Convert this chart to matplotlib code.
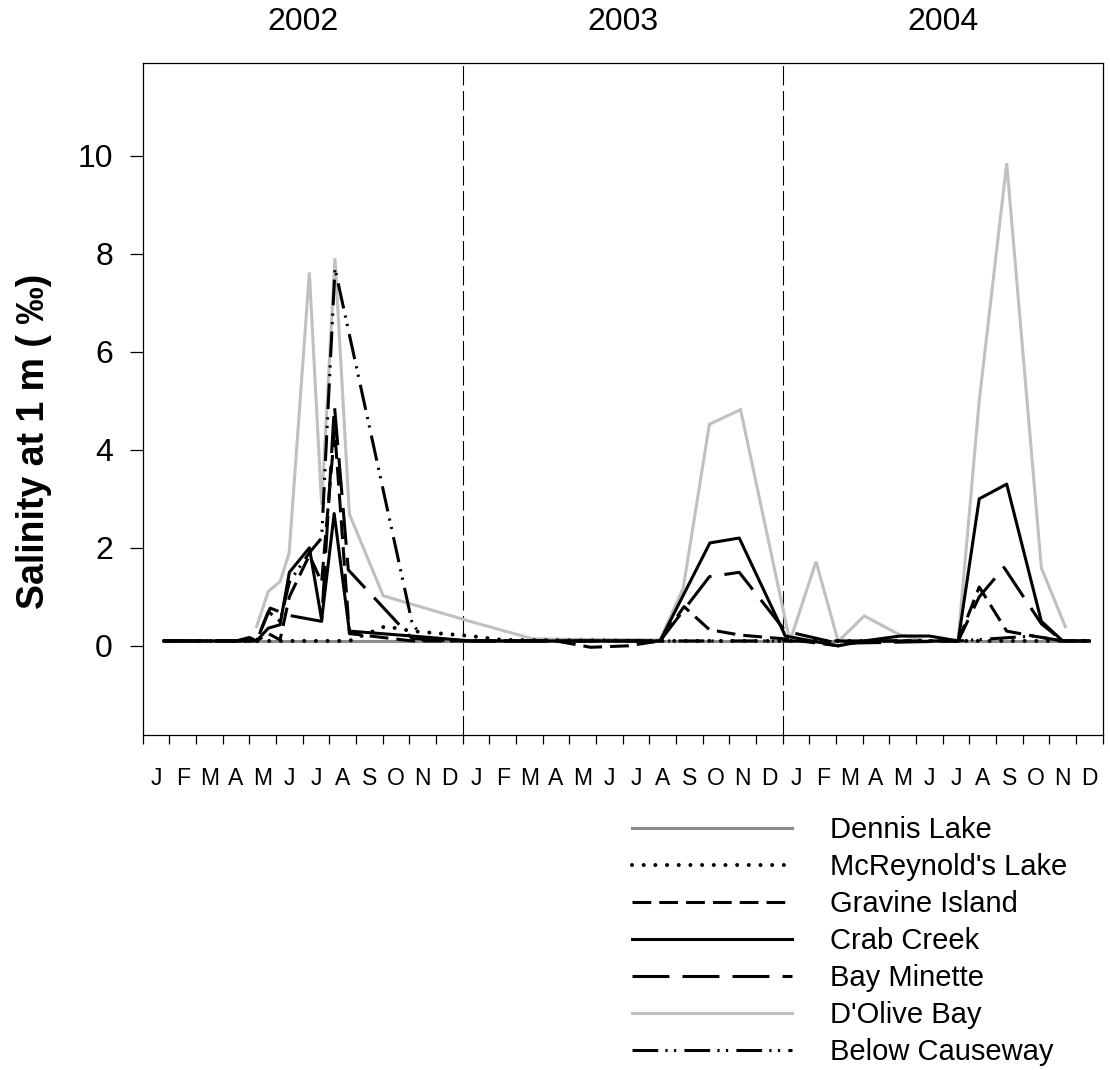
import matplotlib
matplotlib.use("Agg")
import matplotlib.pyplot as plt
from matplotlib.ticker import FixedLocator, NullFormatter, FixedFormatter
from matplotlib.transforms import blended_transform_factory

plt.rcParams['font.family'] = ['Liberation Sans', 'DejaVu Sans']
plt.rcParams['lines.scale_dashes'] = False

# x positions are in months since 1 Jan 2002 (0 = start of Jan 2002)
month_labels = ['J', 'F', 'M', 'A', 'M', 'J', 'J', 'A', 'S', 'O', 'N', 'D']
year_labels = ['2002', '2003', '2004']

dennis_x = [0.8, 4.27, 7.2, 12.3, 19.4, 24.27, 30.58, 35.5]
dennis_y = [0.1, 0.1, 0.1, 0.1, 0.1, 0.1, 0.1, 0.1]

mcreynolds_x = [0.8, 4.27, 7.2, 7.75, 9.1, 10.1, 12.3, 13.5, 19.4, 24.2, 30.58, 35.5]
mcreynolds_y = [0.1, 0.1, 0.1, 0.1, 0.4, 0.3, 0.2, 0.12, 0.1, 0.1, 0.1, 0.1]

gravine_x = [0.8, 4.27, 4.71, 5.15, 5.5, 6.25, 6.71, 7.2, 7.75, 10.1, 12.3, 15.5,
             16.8, 18.2, 19.4, 20.3, 21.25, 22.4, 24.1, 26.08, 27.06, 30.58, 31.37,
             32.4, 33.4, 34.5, 35.5]
gravine_y = [0.1, 0.1, 0.25, 0.12, 1.0, 1.85, 1.3, 4.4, 0.25, 0.1, 0.1, 0.1,
             -0.03, 0.0, 0.1, 0.8, 0.33, 0.22, 0.14, 0.0, 0.1, 0.1, 1.2,
             0.3, 0.2, 0.1, 0.1]

crab_x = [0.8, 3.5, 4.0, 4.27, 4.71, 5.15, 5.5, 6.25, 6.71, 7.18, 7.75, 10.1, 12.3,
          19.4, 21.27, 22.37, 24.1, 26.08, 27.06, 28.4, 29.5, 30.58, 31.37, 32.4,
          33.7, 34.5, 35.5]
crab_y = [0.1, 0.1, 0.17, 0.1, 0.36, 0.43, 1.5, 2.0, 0.53, 2.7, 0.3, 0.2, 0.1,
          0.1, 2.1, 2.2, 0.2, 0.0, 0.1, 0.2, 0.2, 0.1, 3.0, 3.3,
          0.5, 0.1, 0.1]

minette_x = [0.8, 4.27, 4.78, 5.5, 6.71, 7.19, 7.71, 10.1, 12.3, 19.4, 21.25, 22.37,
             24.1, 26.08, 30.58, 31.37, 32.3, 33.7, 34.5, 35.5]
minette_y = [0.1, 0.1, 0.77, 0.62, 0.5, 4.9, 1.55, 0.15, 0.1, 0.1, 1.41, 1.5,
             0.3, 0.05, 0.1, 1.0, 1.6, 0.45, 0.1, 0.1]

dolive_x = [4.27, 4.71, 5.15, 5.49, 6.25, 6.71, 7.21, 7.75, 9.02, 12.27, 14.65, 19.4,
            20.27, 21.25, 22.42, 24.27, 25.25, 26.08, 27.06, 28.4, 29.5, 30.58,
            31.37, 32.4, 33.7, 34.6]
dolive_y = [0.39, 1.11, 1.31, 1.89, 7.62, 2.88, 7.91, 2.69, 1.02, 0.5, 0.14, 0.12,
            1.18, 4.52, 4.82, 0.09, 1.72, 0.09, 0.61, 0.22, 0.09, 0.12,
            5.0, 9.85, 1.59, 0.39]

causeway_x = [0.8, 4.27, 4.71, 5.15, 5.5, 6.25, 6.71, 7.21, 10.09, 10.5, 12.3, 19.4,
              24.2, 30.58, 33.4, 34.5, 35.5]
causeway_y = [0.1, 0.1, 0.7, 0.5, 1.3, 1.9, 2.2, 7.7, 0.5, 0.12, 0.1, 0.1,
              0.1, 0.1, 0.2, 0.1, 0.1]

fig = plt.figure(figsize=(11.1, 10.7), dpi=100)
ax = fig.add_axes([0.12856, 0.31308, 0.86486, 0.62832])

lw = 2.2
h_dol, = ax.plot(dolive_x, dolive_y, color='#c0c0c0', lw=lw, solid_joinstyle='miter',
                 label="D'Olive Bay", zorder=2)
h_den, = ax.plot(dennis_x, dennis_y, color='#8c8c8c', lw=lw, label='Dennis Lake', zorder=2)
h_mcr, = ax.plot(mcreynolds_x, mcreynolds_y, color='black', lw=2.9,
                 linestyle=(0, (0.01, 8.4)), dash_capstyle='round',
                 label="McReynold's Lake", zorder=3)
h_gra, = ax.plot(gravine_x, gravine_y, color='black', lw=lw,
                 linestyle=(0, (13.5, 5.8)), label='Gravine Island', zorder=3)
h_cra, = ax.plot(crab_x, crab_y, color='black', lw=lw, label='Crab Creek', zorder=3)
h_min, = ax.plot(minette_x, minette_y, color='black', lw=lw,
                 linestyle=(0, (26.6, 9.4)), label='Bay Minette', zorder=3)
h_cau, = ax.plot(causeway_x, causeway_y, color='black', lw=lw,
                 linestyle=(0, (18.5, 5.2, 1.6, 4.6, 1.6, 5.9)),
                 label='Below Causeway', zorder=3)

# year separators
for xv in (12, 24):
    ax.axvline(xv, color='black', lw=0.8, linestyle=(0, (14, 4)), zorder=1)

ax.set_xlim(0, 36)
ax.set_ylim(-1.82, 11.9)

for s in ax.spines.values():
    s.set_linewidth(0.9)

# month ticks at boundaries, month letters centred in each month
ax.xaxis.set_major_locator(FixedLocator(list(range(37))))
ax.xaxis.set_major_formatter(NullFormatter())
ax.xaxis.set_minor_locator(FixedLocator([i + 0.5 for i in range(36)]))
ax.xaxis.set_minor_formatter(FixedFormatter(month_labels * 3))
ax.tick_params(axis='x', which='major', direction='out', length=6.5, width=0.9)
ax.tick_params(axis='x', which='minor', length=0, pad=23, labelsize=16.5)

ax.set_yticks([0, 2, 4, 6, 8, 10])
ax.tick_params(axis='y', direction='out', length=9.4, width=0.9, pad=12, labelsize=23)

trans = blended_transform_factory(ax.transData, ax.transAxes)
for i, yl in enumerate(year_labels):
    ax.text(6 + 12 * i, 1.0605, yl, transform=trans, ha='center', va='center', fontsize=23)

fig.text(0.031, 1 - 441 / 1070, 'Salinity at 1 m ( \u2030)', rotation=90, ha='center',
         va='center', fontsize=27, fontweight='bold')

handles = [h_den, h_mcr, h_gra, h_cra, h_min, h_dol, h_cau]
fig.legend(handles=handles, labels=[h.get_label() for h in handles],
           loc='upper left', bbox_to_anchor=(632 / 1110, 1 - 816 / 1070),
           frameon=False, fontsize=21, handlelength=5.5, handletextpad=1.3,
           labelspacing=0.31, borderpad=0, borderaxespad=0)

fig.savefig('out.png', dpi=100)
